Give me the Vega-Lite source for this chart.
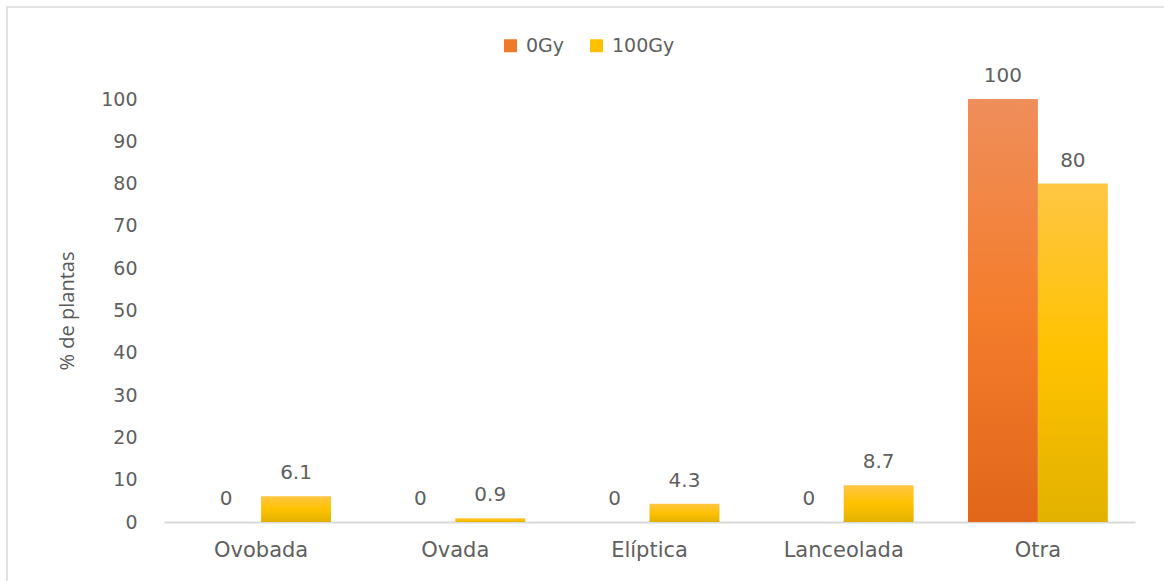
{
  "$schema": "https://vega.github.io/schema/vega-lite/v6.json",
  "autosize": "none",
  "width": 1163,
  "height": 580,
  "padding": {"left": 7, "top": 7, "right": -6, "bottom": -6},
  "background": "#ffffff",
  "config": {
    "view": {"stroke": "#d9d9d9", "strokeWidth": 1.5},
    "font": "DejaVu Sans"
  },
  "data": {
    "values": [
      {"forma": "Ovobada", "dosis": "0Gy", "pct": 0},
      {"forma": "Ovobada", "dosis": "100Gy", "pct": 6.1},
      {"forma": "Ovada", "dosis": "0Gy", "pct": 0},
      {"forma": "Ovada", "dosis": "100Gy", "pct": 0.9},
      {"forma": "Elíptica", "dosis": "0Gy", "pct": 0},
      {"forma": "Elíptica", "dosis": "100Gy", "pct": 4.3},
      {"forma": "Lanceolada", "dosis": "0Gy", "pct": 0},
      {"forma": "Lanceolada", "dosis": "100Gy", "pct": 8.7},
      {"forma": "Otra", "dosis": "0Gy", "pct": 100},
      {"forma": "Otra", "dosis": "100Gy", "pct": 80}
    ]
  },
  "encoding": {
    "x": {
      "field": "forma",
      "type": "nominal",
      "sort": null,
      "scale": {"range": [157, 1128], "paddingInner": 0.28, "paddingOuter": 0.14},
      "axis": {
        "title": null,
        "labelAngle": 0,
        "offset": -65,
        "ticks": false,
        "tickSize": 0,
        "labelPadding": 17,
        "labelFont": "DejaVu Sans",
        "labelFontSize": 21,
        "labelColor": "#5f5f5f",
        "domainColor": "#d9d9d9",
        "domainWidth": 2
      }
    },
    "xOffset": {
      "field": "dosis",
      "type": "nominal",
      "scale": {"domain": ["0Gy", "100Gy"], "paddingInner": 0, "paddingOuter": 0}
    },
    "y": {
      "field": "pct",
      "type": "quantitative",
      "scale": {"domain": [0, 100], "range": [515, 92], "nice": false},
      "axis": {
        "title": "% de plantas",
        "values": [0, 10, 20, 30, 40, 50, 60, 70, 80, 90, 100],
        "offset": -130,
        "domain": false,
        "grid": false,
        "ticks": false,
        "tickSize": 0,
        "labelPadding": 0,
        "labelFont": "DejaVu Sans",
        "labelFontSize": 19,
        "labelColor": "#5f5f5f",
        "titleFont": "Open Sans",
        "titleFontSize": 20,
        "titleFontWeight": "normal",
        "titleColor": "#595959",
        "titlePadding": 23
      }
    }
  },
  "layer": [
    {
      "mark": {"type": "bar", "opacity": 0},
      "encoding": {
        "color": {
          "field": "dosis",
          "type": "nominal",
          "scale": {"domain": ["0Gy", "100Gy"], "range": ["#f07a2c", "#ffc000"]},
          "legend": {
            "title": null,
            "orient": "none",
            "direction": "horizontal",
            "legendX": 494,
            "legendY": 29,
            "padding": 0,
            "symbolType": "square",
            "symbolSize": 169,
            "symbolStrokeWidth": 0,
            "labelFont": "DejaVu Sans",
            "labelFontSize": 19,
            "labelColor": "#5f5f5f",
            "labelOffset": 6,
            "columnPadding": 22,
            "encode": {"symbols": {"update": {"opacity": {"value": 1}}}}
          }
        }
      }
    },
    {
      "transform": [{"filter": "datum.dosis === '0Gy'"}],
      "mark": {
        "type": "bar",
        "color": {
          "gradient": "linear",
          "x1": 0, "y1": 0, "x2": 0, "y2": 1,
          "stops": [
            {"offset": 0, "color": "#ef8e5b"},
            {"offset": 0.5, "color": "#f47d2c"},
            {"offset": 1, "color": "#e1661a"}
          ]
        }
      }
    },
    {
      "transform": [{"filter": "datum.dosis === '100Gy'"}],
      "mark": {
        "type": "bar",
        "color": {
          "gradient": "linear",
          "x1": 0, "y1": 0, "x2": 0, "y2": 1,
          "stops": [
            {"offset": 0, "color": "#ffc644"},
            {"offset": 0.5, "color": "#ffc200"},
            {"offset": 1, "color": "#e2b100"}
          ]
        }
      }
    },
    {
      "mark": {
        "type": "text",
        "baseline": "alphabetic",
        "dy": -17,
        "font": "DejaVu Sans",
        "fontSize": 20,
        "color": "#5f5f5f"
      },
      "encoding": {
        "text": {"field": "pct", "type": "quantitative"}
      }
    }
  ]
}
